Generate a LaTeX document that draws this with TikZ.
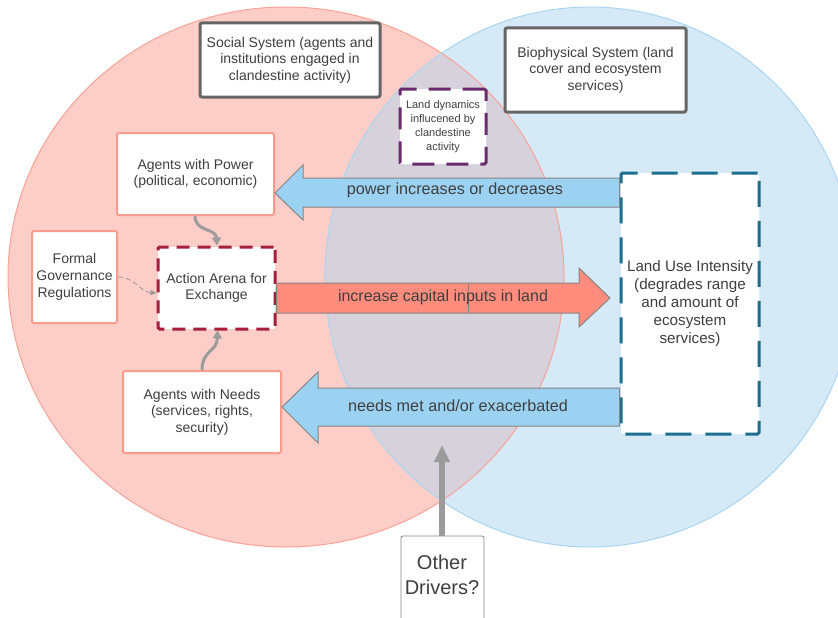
\documentclass[tikz,border=0pt]{standalone}
\usepackage{fontspec}
\setmainfont{Liberation Sans}
\usetikzlibrary{arrows.meta}
\definecolor{redfill}{HTML}{FDCDC7}
\definecolor{redline}{HTML}{F9A396}
\definecolor{bluefill}{HTML}{D5E9F7}
\definecolor{blueline}{HTML}{A8D6F2}
\definecolor{overlapfill}{HTML}{D6D1DB}
\definecolor{txt}{HTML}{3F3F3F}
\definecolor{sysline}{HTML}{666666}
\definecolor{salmonline}{HTML}{F99C8E}
\definecolor{arenaline}{HTML}{A51E3C}
\definecolor{dynline}{HTML}{6A2C6C}
\definecolor{useline}{HTML}{1C6E8E}
\definecolor{arrowblue}{HTML}{9CD2F1}
\definecolor{arrowred}{HTML}{FF8C7C}
\definecolor{arrowedge}{HTML}{858585}
\definecolor{connector}{HTML}{9B9B9B}
\begin{document}
\begin{tikzpicture}[x=1pt,y=-1pt,
  every node/.style={text=txt, align=center, inner sep=0pt},
  sysbox/.style={draw=sysline, line width=3pt, fill=white, rounded corners=2pt},
  agentbox/.style={draw=salmonline, line width=2pt, fill=white, rounded corners=2pt},
  dashbox/.style={fill=white, line width=3pt, rounded corners=1.5pt},
  blockarrow/.style={draw=arrowedge, line width=1pt, line join=miter},
  curvearrow/.style={draw=connector, line width=3pt, -{Triangle[length=8pt,width=9pt]}},
  lbl/.style={font=\fontsize{16.2}{19}\selectfont}
]
\useasboundingbox (0,0) rectangle (838,618);
% circles
\fill[redfill] (286,277) ellipse [x radius=278, y radius=270];
\fill[bluefill] (590,277) ellipse [x radius=265, y radius=270];
\begin{scope}
  \clip (286,277) ellipse [x radius=278, y radius=270];
  \fill[overlapfill] (590,277) ellipse [x radius=265, y radius=270];
\end{scope}
\draw[redline, line width=1pt] (286,277) ellipse [x radius=278, y radius=270];
\draw[blueline, line width=1pt] (590,277) ellipse [x radius=265, y radius=270];

% boxes
\node[sysbox, minimum width=180, minimum height=74, font=\fontsize{14}{16.4}\selectfont] (social) at (290,60)
  {Social System (agents and\\institutions engaged in\\clandestine activity)};
\node[sysbox, minimum width=181, minimum height=84, font=\fontsize{14}{16.5}\selectfont] (bio) at (595.5,70)
  {Biophysical System (land\\cover and ecosystem\\services)};
\node[dashbox, draw=dynline, dash pattern=on 22pt off 12pt, minimum width=86, minimum height=75, font=\fontsize{11}{13.8}\selectfont] (dyn) at (443,126.5)
  {Land dynamics\\influcened by\\clandestine\\activity};
\node[agentbox, minimum width=157, minimum height=82, font=\fontsize{14}{16.7}\selectfont] (power) at (195.5,174)
  {Agents with Power\\(political, economic)};
\node[agentbox, minimum width=85, minimum height=92, font=\fontsize{14}{16.7}\selectfont] (gov) at (74.5,277)
  {Formal\\Governance\\Regulations};
\node[agentbox, minimum width=158, minimum height=82, font=\fontsize{14}{16.5}\selectfont] (needs) at (202,412)
  {Agents with Needs\\(services, rights,\\security)};
\node[dashbox, draw=useline, dash pattern=on 26pt off 14pt, minimum width=138, minimum height=261, font=\fontsize{15.2}{17.8}\selectfont] (use) at (690,303.5)
  {Land Use Intensity\\(degrades range\\and amount of\\ecosystem\\services)};

% block arrows
\draw[blockarrow, fill=arrowblue] (power.east |- 0,193) -- (303,165) -- (303,178) -- (use.west |- 0,178)
  -- (use.west |- 0,207) -- (303,207) -- (303,220) -- cycle;
\node[lbl] (powerlbl) at (455,190.5) {power increases or decreases};
\draw[blockarrow, fill=arrowblue] (needs.east |- 0,407) -- (318,372) -- (318,388) -- (use.west |- 0,388)
  -- (use.west |- 0,426) -- (318,426) -- (318,443) -- cycle;
\node[lbl] (needslbl) at (458,406) {needs met and/or exacerbated};

\node[dashbox, draw=arenaline, dash pattern=on 13pt off 8pt, minimum width=117, minimum height=82, font=\fontsize{14}{16.5}\selectfont] (arena) at (216.5,288)
  {Action Arena for\\Exchange};
\draw[blockarrow, fill=arrowred] (arena.east |- 0,283) -- (579,283) -- (579,268) -- (610,298) -- (579,327)
  -- (579,313) -- (arena.east |- 0,313) -- cycle;
\draw[arrowedge, line width=0.6pt] (468,283) -- (468,313);
\node[lbl, font=\fontsize{16}{19}\selectfont] (caplbl) at (443,297) {increase capital inputs in land};

% curved connectors
\draw[curvearrow] ([xshift=-0.5pt]power.south) .. controls (195,232) and (216,228) .. ([xshift=0.5pt]arena.north);
\draw[curvearrow] ([xshift=0pt]needs.north) .. controls (202,350) and (217,352) .. ([xshift=1pt]arena.south);
\draw[connector, line width=0.8pt, dashed, dash pattern=on 5pt off 3pt, -{Triangle[length=6pt,width=5pt]}]
  (gov.east |- 0,277) .. controls (135,277) and (140,292) .. (arena.west |- 0,293);

% other drivers
\draw[arrowedge, line width=0.8pt, rounded corners=2pt, fill=white] (401,625) -- (401,536) -- (484,536) -- (484,625);
\node[font=\fontsize{20}{25.5}\selectfont] (other) at (442,575) {Other\\Drivers?};
\coordinate (othertop) at (442,536);
\coordinate (drivetip) at (442,445);
\draw[connector, line width=6pt, -{Triangle[length=17pt,width=15pt]}] (othertop) -- (drivetip);
\end{tikzpicture}
\end{document}
